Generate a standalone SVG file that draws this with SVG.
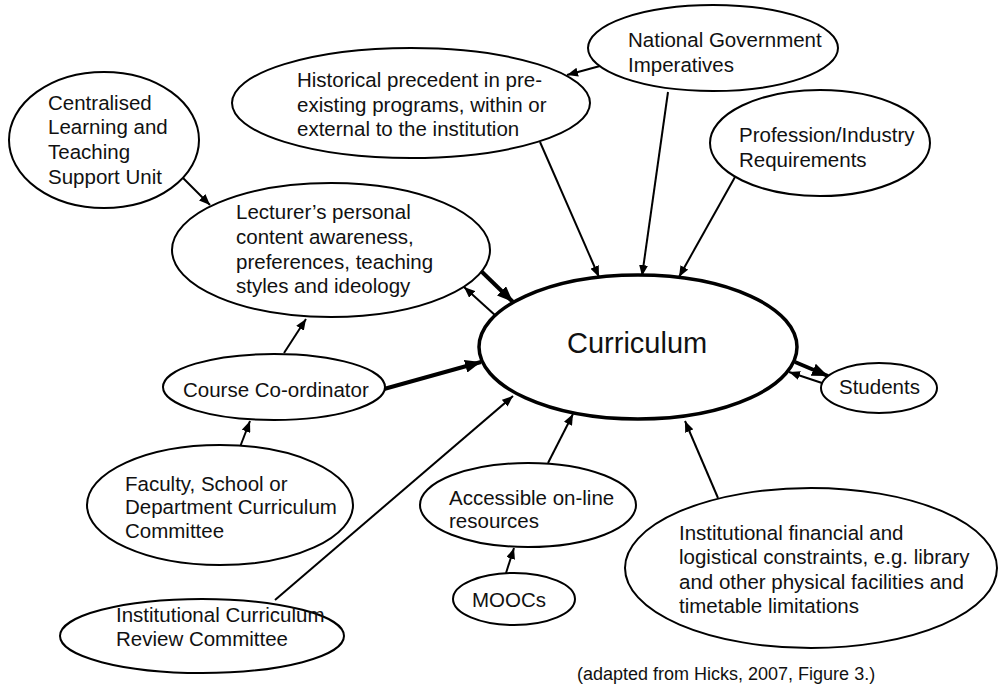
<svg xmlns="http://www.w3.org/2000/svg" width="998" height="685" viewBox="0 0 998 685">
<style>
.n{fill:#fff;stroke:#000;stroke-width:2}
.c{fill:#fff;stroke:#000;stroke-width:3.5}
text{font-family:"Liberation Sans",Arial,sans-serif;font-size:20.5px;fill:#111}
.t{stroke:#000;stroke-width:2;fill:none;marker-end:url(#a)}
.k{stroke:#000;stroke-width:4;fill:none;marker-end:url(#b)}
</style>
<defs>
<marker id="a" viewBox="0 0 11 9" refX="11" refY="4.5" markerWidth="11" markerHeight="9" markerUnits="userSpaceOnUse" orient="auto"><path d="M0,0 L11,4.5 L0,9 z" fill="#000"/></marker>
<marker id="b" viewBox="0 0 16 13" refX="16" refY="6.5" markerWidth="16" markerHeight="13" markerUnits="userSpaceOnUse" orient="auto"><path d="M0,0 L16,6.5 L0,13 z" fill="#000"/></marker>
</defs>
<rect width="998" height="685" fill="#fff"/>
<g id="connectors">
<line class="t" x1="183" y1="178" x2="210" y2="205"/>
<line class="t" x1="600" y1="66" x2="567" y2="75"/>
<line class="t" x1="540" y1="142" x2="599" y2="277"/>
<line class="t" x1="668" y1="92" x2="642" y2="276"/>
<line class="t" x1="735" y1="177" x2="679" y2="277"/>
<line class="k" x1="480" y1="270" x2="513" y2="302"/>
<line class="t" x1="496" y1="316" x2="464" y2="287"/>
<line class="t" x1="284" y1="353" x2="306" y2="319"/>
<line class="k" x1="384" y1="389" x2="481" y2="362"/>
<line class="t" x1="240" y1="447" x2="250" y2="421"/>
<line class="t" x1="275" y1="600" x2="513" y2="396"/>
<line class="t" x1="548" y1="463" x2="573" y2="414"/>
<line class="t" x1="506" y1="573" x2="514" y2="548"/>
<line class="t" x1="718" y1="498" x2="685" y2="421"/>
<line class="k" x1="795" y1="362" x2="828" y2="376"/>
<line class="t" x1="822" y1="383" x2="789" y2="372"/>
</g>
<g id="centralised"><ellipse class="n" cx="104" cy="140" rx="95" ry="68"/>
<text x="48" y="110">Centralised</text><text x="48" y="134">Learning and</text><text x="48" y="159">Teaching</text><text x="48" y="184">Support Unit</text></g>
<g id="historical"><ellipse class="n" cx="411" cy="103" rx="179" ry="55"/>
<text x="297" y="87">Historical precedent in pre-</text><text x="297" y="112">existing programs, within or</text><text x="297" y="136">external to the institution</text></g>
<g id="national"><ellipse class="n" cx="713" cy="48" rx="125" ry="43"/>
<text x="628" y="47">National Government</text><text x="628" y="72">Imperatives</text></g>
<g id="profession"><ellipse class="n" cx="820" cy="143" rx="110" ry="53"/>
<text x="739" y="142">Profession/Industry</text><text x="739" y="167">Requirements</text></g>
<g id="lecturer"><ellipse class="n" cx="331" cy="250" rx="159" ry="67"/>
<text x="236" y="219">Lecturer’s personal</text><text x="236" y="244">content awareness,</text><text x="236" y="269">preferences, teaching</text><text x="236" y="293">styles and ideology</text></g>
<g id="curriculum"><ellipse class="c" cx="638" cy="347" rx="159" ry="72"/>
<text x="567" y="353" style="font-size:29px">Curriculum</text></g>
<g id="course"><ellipse class="n" cx="274" cy="387" rx="111" ry="33"/>
<text x="183" y="397">Course Co-ordinator</text></g>
<g id="students"><ellipse class="n" cx="879" cy="388" rx="58" ry="25"/>
<text x="839" y="394">Students</text></g>
<g id="faculty"><ellipse class="n" cx="220" cy="505" rx="133" ry="60"/>
<text x="125" y="491">Faculty, School or</text><text x="125" y="514">Department Curriculum</text><text x="125" y="538">Committee</text></g>
<g id="accessible"><ellipse class="n" cx="528" cy="505" rx="108" ry="42"/>
<text x="449" y="505">Accessible on-line</text><text x="449" y="528">resources</text></g>
<g id="moocs"><ellipse class="n" cx="514" cy="599" rx="61" ry="26"/>
<text x="472" y="607">MOOCs</text></g>
<g id="financial"><ellipse class="n" cx="811" cy="568" rx="186" ry="80"/>
<text x="679" y="540">Institutional financial and</text><text x="679" y="564">logistical constraints, e.g. library</text><text x="679" y="589">and other physical facilities and</text><text x="679" y="613">timetable limitations</text></g>
<g id="review"><ellipse class="n" cx="202" cy="636" rx="142" ry="37"/>
<text x="116" y="622">Institutional Curriculum</text><text x="116" y="646">Review Committee</text></g>
<text x="577" y="680" style="font-size:18px">(adapted from Hicks, 2007, Figure 3.)</text>
</svg>
